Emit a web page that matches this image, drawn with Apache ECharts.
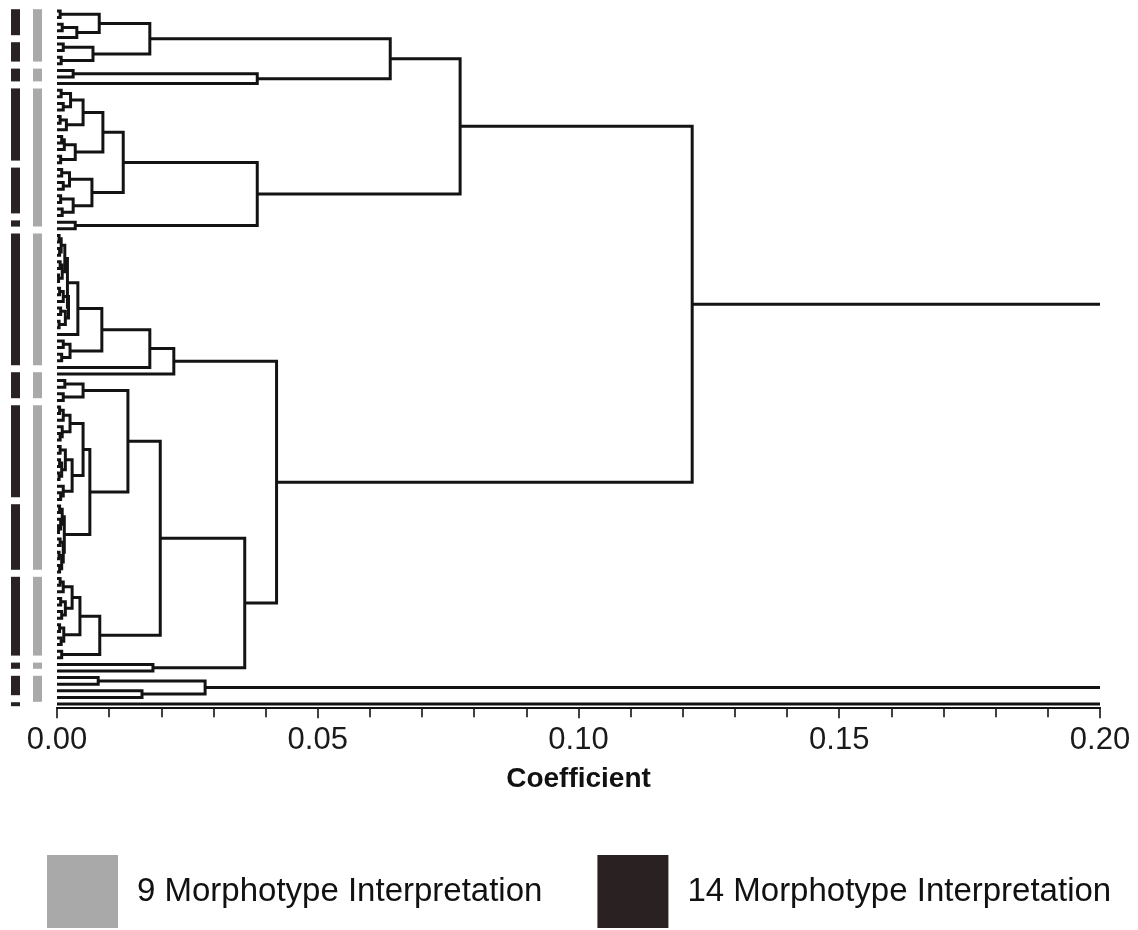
<!DOCTYPE html>
<html><head><meta charset="utf-8">
<script src="https://cdn.jsdelivr.net/npm/echarts@6/dist/echarts.min.js"></script>
<style>html,body{margin:0;padding:0;background:#fff}#c{width:1138px;height:930px}</style>
</head><body><div id="c"></div>
<script>
// Dendrogram: a leaf is 0, an internal node is [height (coefficient), upperChild, lowerChild]
const A1a = [0.0081, [0.0006, 0, 0], [0.0038, [0.0010, 0, 0], 0]];
const A1b = [0.0069, [0.0012, 0, 0], [0.0008, 0, 0]];
const A2 = [0.0384, [0.0031, 0, 0], 0];
const T1 = [0.0639, [0.0178, A1a, A1b], A2];
const B1aTop = [0.0050, [0.0026, [0.0008, 0, 0], [0.0012, 0, 0]], [0.0018, [0.0006, 0, 0], 0]];
const B1aBot = [0.0035, [0.0014, [0.0009, 0, 0], 0], [0.0007, 0, 0]];
const B1b = [0.0067, [0.0024, [0.0009, 0, 0], [0.0012, 0, 0]], [0.0031, [0.0007, 0, 0], [0.0010, 0, 0]]];
const T2 = [0.0384, [0.0127, [0.0088, B1aTop, B1aBot], B1b], [0.0035, 0, 0]];
const Ttop = [0.0773, T1, T2];

const R = [0.0015, [0.0008, [0.0004, 0, 0], [0.0005, 0, 0]], [0.0010, [0.0006, 0, 0], [0.0003, 0, 0]]];
const S = [0.0022, [0.0012, [0.0005, 0, 0], 0], [0.0016, [0.0007, 0, 0], [0.0004, 0, 0]]];
const L1c = [0.0040, [0.0020, R, S], 0];
const L1d = [0.0025, [0.0012, 0, 0], [0.0009, 0, 0]];
const L1 = [0.0224, [0.0178, [0.0086, L1c, L1d], 0], 0];

const L2h = [0.0050, [0.0015, 0, 0], [0.0012, 0, 0]];
const F1 = [0.0025, [0.0012, [0.0005, 0, 0], 0], [0.0010, 0, [0.0006, 0, 0]]];
const F2 = [0.0029, [0.0016, [0.0006, 0, 0], [0.0009, [0.0005, 0, 0], [0.0004, 0, 0]]], [0.0012, 0, [0.0007, 0, 0]]];
const L2g = [0.0014, [0.0010, [0.0005, 0, 0], [0.0007, 0, [0.0003, 0, 0]]], [0.0012, [0.0006, 0, 0], [0.0009, [0.0004, 0, 0], [0.0005, 0, 0]]]];
const D3 = [0.0029, [0.0012, [0.0006, 0, 0], 0], [0.0016, [0.0007, 0, 0], [0.0009, 0, 0]]];
const D4 = [0.0013, [0.0005, 0, 0], [0.0008, 0, 0]];
const L2c = [0.0136, L2h, [0.0063, [0.0050, F1, F2], L2g]];
const L2d = [0.0082, [0.0044, D3, D4], [0.0009, 0, 0]];
const L2 = [0.0360, [0.0198, L2c, L2d], [0.0184, 0, 0]];

const Main = [0.1218, Ttop, [0.0421, L1, L2]];
const Bclu = [0.0284, [0.0079, 0, 0], [0.0163, 0, 0]];
const Root = [0.30, [0.25, Main, Bclu], 0];

// morphotype groups: number of consecutive leaves (top to bottom) in each group
const morph14Groups = [5, 4, 3, 12, 8, 2, 21, 5, 15, 11, 13, 2, 4, 1];
const morph9Groups = [9, 3, 22, 21, 5, 26, 13, 2, 5];
const legendNames = ['9 Morphotype Interpretation', '14 Morphotype Interpretation'];

// build links from the tree
let leafCounter = 0;
const links = [];
function layout(n) {
  if (n === 0) return { h: 0, y: leafCounter++ };
  const a = layout(n[1]), b = layout(n[2]);
  links.push([n[0], a.y, b.y, a.h, b.h]);
  return { h: n[0], y: (a.y + b.y) / 2 };
}
layout(Root);
const nLeaves = leafCounter;

function groupsToSegments(g) {
  const out = []; let s = 0;
  g.forEach(n => { out.push([s, s + n - 1]); s += n; });
  return out;
}
const seg9 = groupsToSegments(morph9Groups);
const seg14 = groupsToSegments(morph14Groups);

function barRender(xPix, w) {
  return function (params, api) {
    const a = api.value(0), b = api.value(1);
    const y0 = api.coord([0, a - 0.5])[1] + 1.5;
    let y1 = api.coord([0, b + 0.5])[1] - 5.5;
    if (y1 < y0 + 4) y1 = y0 + 4;
    return { type: 'rect', shape: { x: xPix, y: y0, width: w, height: y1 - y0 }, style: { fill: api.visual('color') } };
  };
}

const chart = echarts.init(document.getElementById('c'), null, { renderer: 'canvas' });
chart.setOption({
  animation: false,
  backgroundColor: '#ffffff',
  textStyle: { fontFamily: 'Liberation Sans, Arial, sans-serif' },
  grid: { left: 57, right: 38, top: 4.4, height: 702.9 },
  xAxis: {
    type: 'value', position: 'bottom', min: 0, max: 0.2, interval: 0.05,
    axisLine: { onZero: false, lineStyle: { color: '#111', width: 2 } },
    axisTick: { length: 11, lineStyle: { color: '#111', width: 1.6 } },
    minorTick: { show: true, splitNumber: 5, length: 10, lineStyle: { color: '#111', width: 1.6 } },
    splitLine: { show: false },
    axisLabel: { formatter: v => v.toFixed(2), fontSize: 31, margin: 18, color: '#1a1a1a' },
    name: 'Coefficient', nameLocation: 'middle', nameGap: 58,
    nameTextStyle: { fontSize: 28, fontWeight: 'bold', color: '#111' }
  },
  yAxis: { type: 'value', inverse: true, min: -1, max: nLeaves - 0.5, show: false },
  legend: {
    left: 47, top: 855, padding: 0, itemWidth: 71, itemHeight: 73, itemGap: 55, icon: 'rect',
    selectedMode: false, data: legendNames,
    textStyle: { fontSize: 33, color: '#111', padding: [0, 0, 0, 14] }
  },
  series: [
    {
      type: 'custom', name: 'tree', clip: true, silent: true, data: links,
      encode: { x: [0, 3, 4], y: [1, 2] },
      renderItem: function (params, api) {
        const h = api.value(0), ya = api.value(1), yb = api.value(2), ha = api.value(3), hb = api.value(4);
        const pts = [api.coord([ha, ya]), api.coord([h, ya]), api.coord([h, yb]), api.coord([hb, yb])];
        return { type: 'polyline', shape: { points: pts }, style: { stroke: '#131313', lineWidth: 3, fill: null } };
      }
    },
    {
      type: 'custom', name: legendNames[0], clip: false, silent: true, data: seg9,
      itemStyle: { color: '#a9a9a9' }, encode: { y: [0, 1] },
      renderItem: barRender(33, 9)
    },
    {
      type: 'custom', name: legendNames[1], clip: false, silent: true, data: seg14,
      itemStyle: { color: '#2a2222' }, encode: { y: [0, 1] },
      renderItem: barRender(11, 9)
    }
  ]
});
</script>
</body></html>
